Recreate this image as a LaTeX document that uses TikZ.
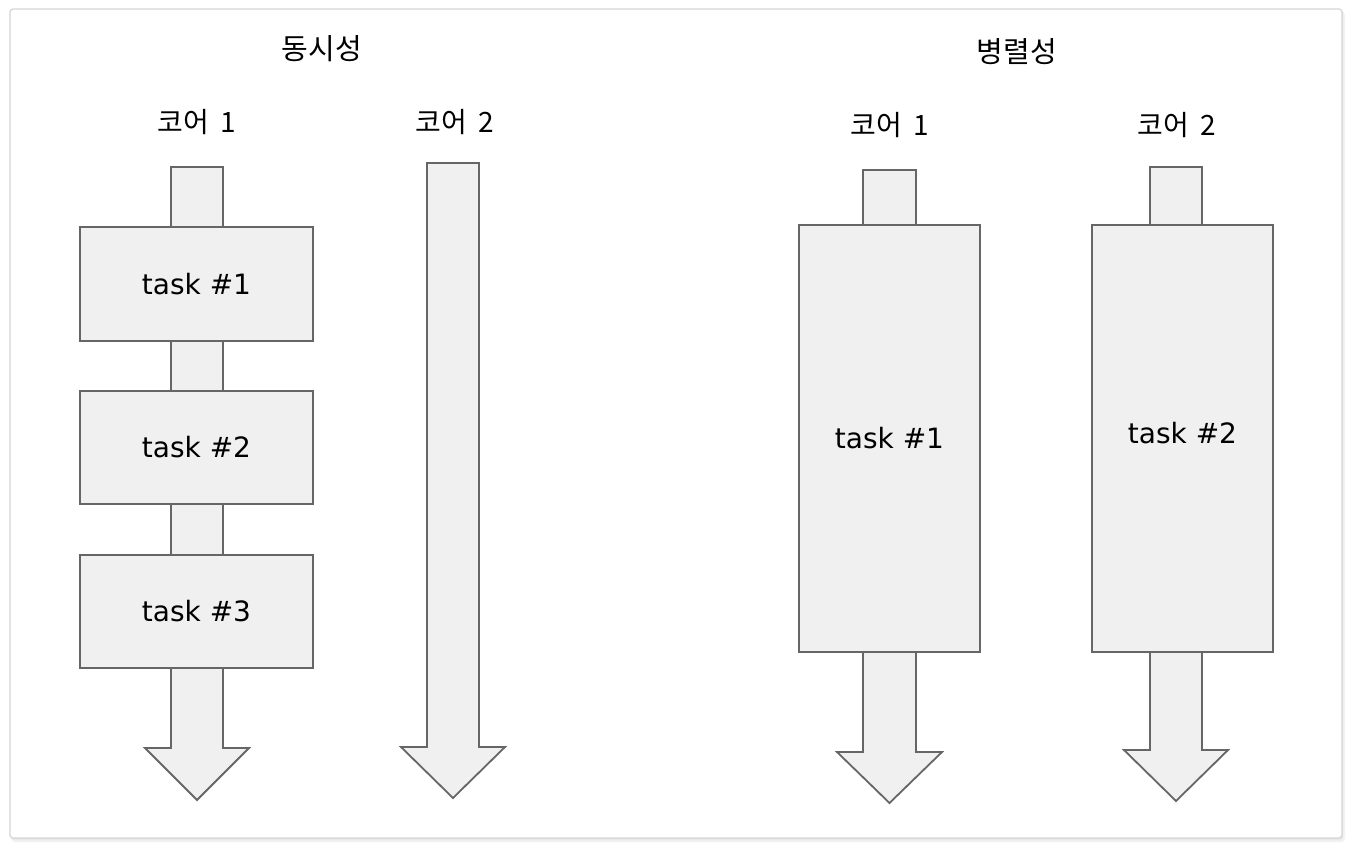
\documentclass[tikz,border=0pt]{standalone}
\usepackage{fontspec}
\setmainfont{DejaVu Sans}
\newfontfamily\krfont{Noto Sans CJK KR}
\usepackage{tikz}
\usetikzlibrary{positioning,calc}
\definecolor{cpufill}{RGB}{240,240,240}
\definecolor{cpuline}{RGB}{102,102,102}
\definecolor{framegray}{RGB}{212,212,212}

\begin{document}
\begin{tikzpicture}[x=1pt,y=-1pt,
  frame/.style={draw=framegray,line width=1.2pt,rounded corners=3pt,fill=white},
  heading/.style={font=\krfont\fontsize{29}{34}\selectfont},
  corelabel/.style={font=\krfont\fontsize{28}{34}\selectfont},
  taskbox/.style={draw=cpuline,fill=cpufill,line width=1.8pt,inner sep=0pt,
    font=\fontsize{28}{34}\selectfont},
  lane/.style={draw=cpuline,fill=cpufill,line width=1.8pt,line join=miter}]

\path[use as bounding box] (0,0) rectangle (1350,848);
\fill[black!5,rounded corners=4pt] (11,11) rectangle (1345,842);
\fill[black!9,rounded corners=3pt] (11,10) rectangle (1343,840);
\draw[frame] (10,9) rectangle (1342,838);
\node[heading] (conchead) at (322,49) {동시성};
\node[heading] (parhead) at (1017,52) {병렬성};
\node[corelabel] (cc1) at (197,122) {코어\hspace{.4em}1};
\node[corelabel] (cc2) at (455,122) {코어\hspace{.4em}2};
\node[corelabel] (pc1) at (890,125) {코어\hspace{.4em}1};
\node[corelabel] (pc2) at (1177,125) {코어\hspace{.4em}2};
\foreach \l/\r/\t/\h/\e in {171/223/167/748/800,427/479/163/747/798,
    863/916/170/752/803,1150/1202/167/750/801}
  \draw[lane] (\l,\t) -- (\r,\t) -- (\r,\h) -- (\r+26,\h)
    -- ({(\l+\r)/2},\e) -- (\l-26,\h) -- (\l,\h) -- cycle;
\node[taskbox,minimum width=233,minimum height=114] (ctask1) at (196.5,284) {task \#1};
\node[taskbox,minimum width=233,minimum height=113] (ctask2) at (196.5,447.5) {task \#2};
\node[taskbox,minimum width=233,minimum height=113] (ctask3) at (196.5,611.5) {task \#3};
\node[taskbox,minimum width=181,minimum height=427] (ptask1) at (889.5,438.5) {task \#1};
\node[taskbox,minimum width=181,minimum height=427,text depth=12pt] (ptask2) at (1182.5,438.5) {task \#2};

\end{tikzpicture}
\end{document}
